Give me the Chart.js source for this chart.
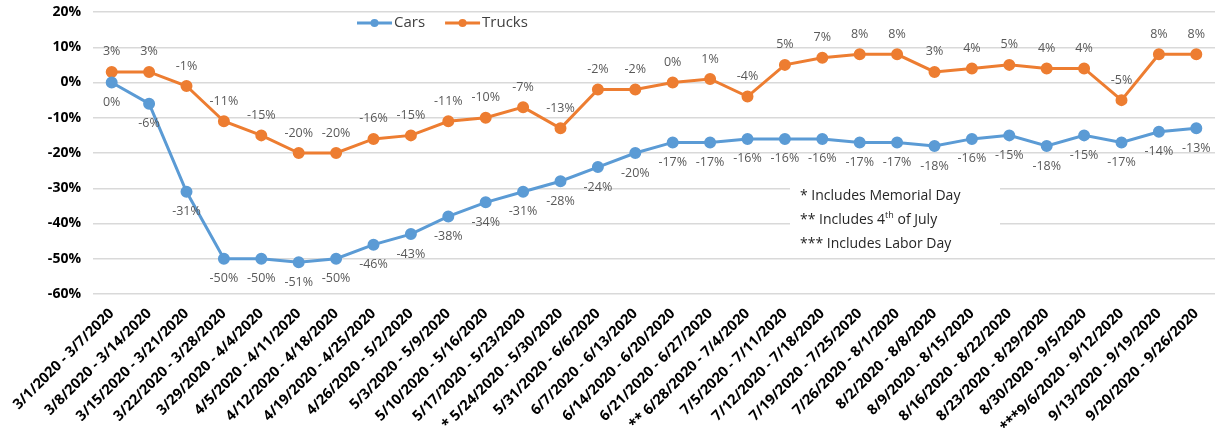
<!DOCTYPE html>
<html>
<head>
<meta charset="utf-8">
<script src="https://cdn.jsdelivr.net/npm/chart.js@4/dist/chart.umd.min.js"></script>
<style>
  body { margin: 0; background: #fff; }
</style>
</head>
<body>
<canvas id="chart" width="1223" height="439"></canvas>
<script>
'use strict';

const weeks = [
  '3/1/2020 - 3/7/2020', '3/8/2020 - 3/14/2020', '3/15/2020 - 3/21/2020', '3/22/2020 - 3/28/2020',
  '3/29/2020 - 4/4/2020', '4/5/2020 - 4/11/2020', '4/12/2020 - 4/18/2020', '4/19/2020 - 4/25/2020',
  '4/26/2020 - 5/2/2020', '5/3/2020 - 5/9/2020', '5/10/2020 - 5/16/2020', '5/17/2020 - 5/23/2020',
  '* 5/24/2020 - 5/30/2020', '5/31/2020 - 6/6/2020', '6/7/2020 - 6/13/2020', '6/14/2020 - 6/20/2020',
  '6/21/2020 - 6/27/2020', '** 6/28/2020 - 7/4/2020', '7/5/2020 - 7/11/2020', '7/12/2020 - 7/18/2020',
  '7/19/2020 - 7/25/2020', '7/26/2020 - 8/1/2020', '8/2/2020 - 8/8/2020', '8/9/2020 - 8/15/2020',
  '8/16/2020 - 8/22/2020', '8/23/2020 - 8/29/2020', '8/30/2020 - 9/5/2020', '***9/6/2020 - 9/12/2020',
  '9/13/2020 - 9/19/2020', '9/20/2020 - 9/26/2020'
];

const cars = [0, -6, -31, -50, -50, -51, -50, -46, -43, -38, -34, -31, -28, -24, -20,
  -17, -17, -16, -16, -16, -17, -17, -18, -16, -15, -18, -15, -17, -14, -13];

const trucks = [3, 3, -1, -11, -15, -20, -20, -16, -15, -11, -10, -7, -13, -2, -2,
  0, 1, -4, 5, 7, 8, 8, 3, 4, 5, 4, 4, -5, 8, 8];

const notes = ['* Includes Memorial Day', '** Includes 4|th| of July', '*** Includes Labor Day'];

const blue = '#5B9BD5';
const orange = '#ED7D31';

// value labels: cars under the point, trucks over it
const valueLabels = {
  id: 'valueLabels',
  afterDatasetsDraw(chart) {
    let ctx = chart.ctx;
    ctx.save();
    ctx.font = '12.5px "Open Sans"';
    ctx.fillStyle = '#595959';
    ctx.textAlign = 'center';
    ctx.textBaseline = 'middle';
    chart.data.datasets.forEach((ds, i) => {
      let meta = chart.getDatasetMeta(i);
      let dy = i === 0 ? 20 : -20;
      meta.data.forEach((pt, j) => {
        ctx.fillText(ds.data[j] + '%', pt.x, pt.y + dy);
      });
    });
    ctx.restore();
  }
};

// legend drawn inside the plot + footnote box
const extras = {
  id: 'extras',
  afterDraw(chart) {
    let ctx = chart.ctx;
    let area = chart.chartArea;
    ctx.save();

    // legend
    ctx.font = '15px "Open Sans"';
    ctx.textBaseline = 'middle';
    let lx = area.left + 264;
    let ly = area.top + 11;
    chart.data.datasets.forEach((ds) => {
      ctx.strokeStyle = ds.borderColor;
      ctx.lineWidth = 3;
      ctx.beginPath();
      ctx.moveTo(lx, ly);
      ctx.lineTo(lx + 35, ly);
      ctx.stroke();
      ctx.fillStyle = ds.borderColor;
      ctx.beginPath();
      ctx.arc(lx + 17.5, ly, 4, 0, Math.PI * 2);
      ctx.fill();
      ctx.fillStyle = '#404040';
      ctx.textAlign = 'left';
      ctx.fillText(ds.label, lx + 37, ly);
      lx += 37 + ctx.measureText(ds.label).width + 20;
    });

    // footnotes
    let bx = area.left + 697;
    let by = area.top + 168;
    ctx.fillStyle = '#fff';
    ctx.fillRect(bx, by, 210, 78);
    ctx.font = '14px "Open Sans"';
    ctx.fillStyle = '#262626';
    notes.forEach((n, i) => {
      let y = by + 16 + i * 24;
      let x = bx + 10;
      n.split('|').forEach((part, k) => {
        if (k === 1) {
          ctx.font = '9px "Open Sans"';
          ctx.fillText(part, x, y - 5);
        } else {
          ctx.font = '14px "Open Sans"';
          ctx.fillText(part, x, y);
        }
        x += ctx.measureText(part).width;
      });
    });
    ctx.restore();
  }
};

new Chart(document.getElementById('chart'), {
  type: 'line',
  data: {
    labels: weeks,
    datasets: [
      {
        label: 'Cars',
        data: cars,
        borderColor: blue,
        backgroundColor: blue,
        borderWidth: 3,
        pointRadius: 4.5,
        pointHoverRadius: 4.5,
        tension: 0
      },
      {
        label: 'Trucks',
        data: trucks,
        borderColor: orange,
        backgroundColor: orange,
        borderWidth: 3,
        pointRadius: 4.5,
        pointHoverRadius: 4.5,
        tension: 0
      }
    ]
  },
  options: {
    responsive: false,
    animation: false,
    layout: { padding: { left: 5, right: 8, top: 12, bottom: 0 } },
    plugins: {
      legend: { display: false },
      tooltip: { enabled: false }
    },
    scales: {
      x: {
        offset: true,
        grid: { display: false },
        border: { display: false },
        ticks: {
          autoSkip: false,
          maxRotation: 45,
          minRotation: 45,
          color: '#000',
          font: { family: 'Open Sans', size: 14.5, weight: 'bold' }
        },
        afterFit(s) { s.height = 145; }
      },
      y: {
        min: -60,
        max: 20,
        ticks: {
          stepSize: 10,
          padding: 12,
          color: '#000',
          font: { family: 'Open Sans', size: 14, weight: 'bold' },
          callback: (v) => v + '%'
        },
        grid: { color: '#d9d9d9', lineWidth: 1.5, drawTicks: false },
        border: { display: false },
        afterFit(s) {
          s.width = 88;
          s.paddingTop = 0;
          s.paddingBottom = 0;
        }
      }
    }
  },
  plugins: [valueLabels, extras]
});
</script>
</body>
</html>
